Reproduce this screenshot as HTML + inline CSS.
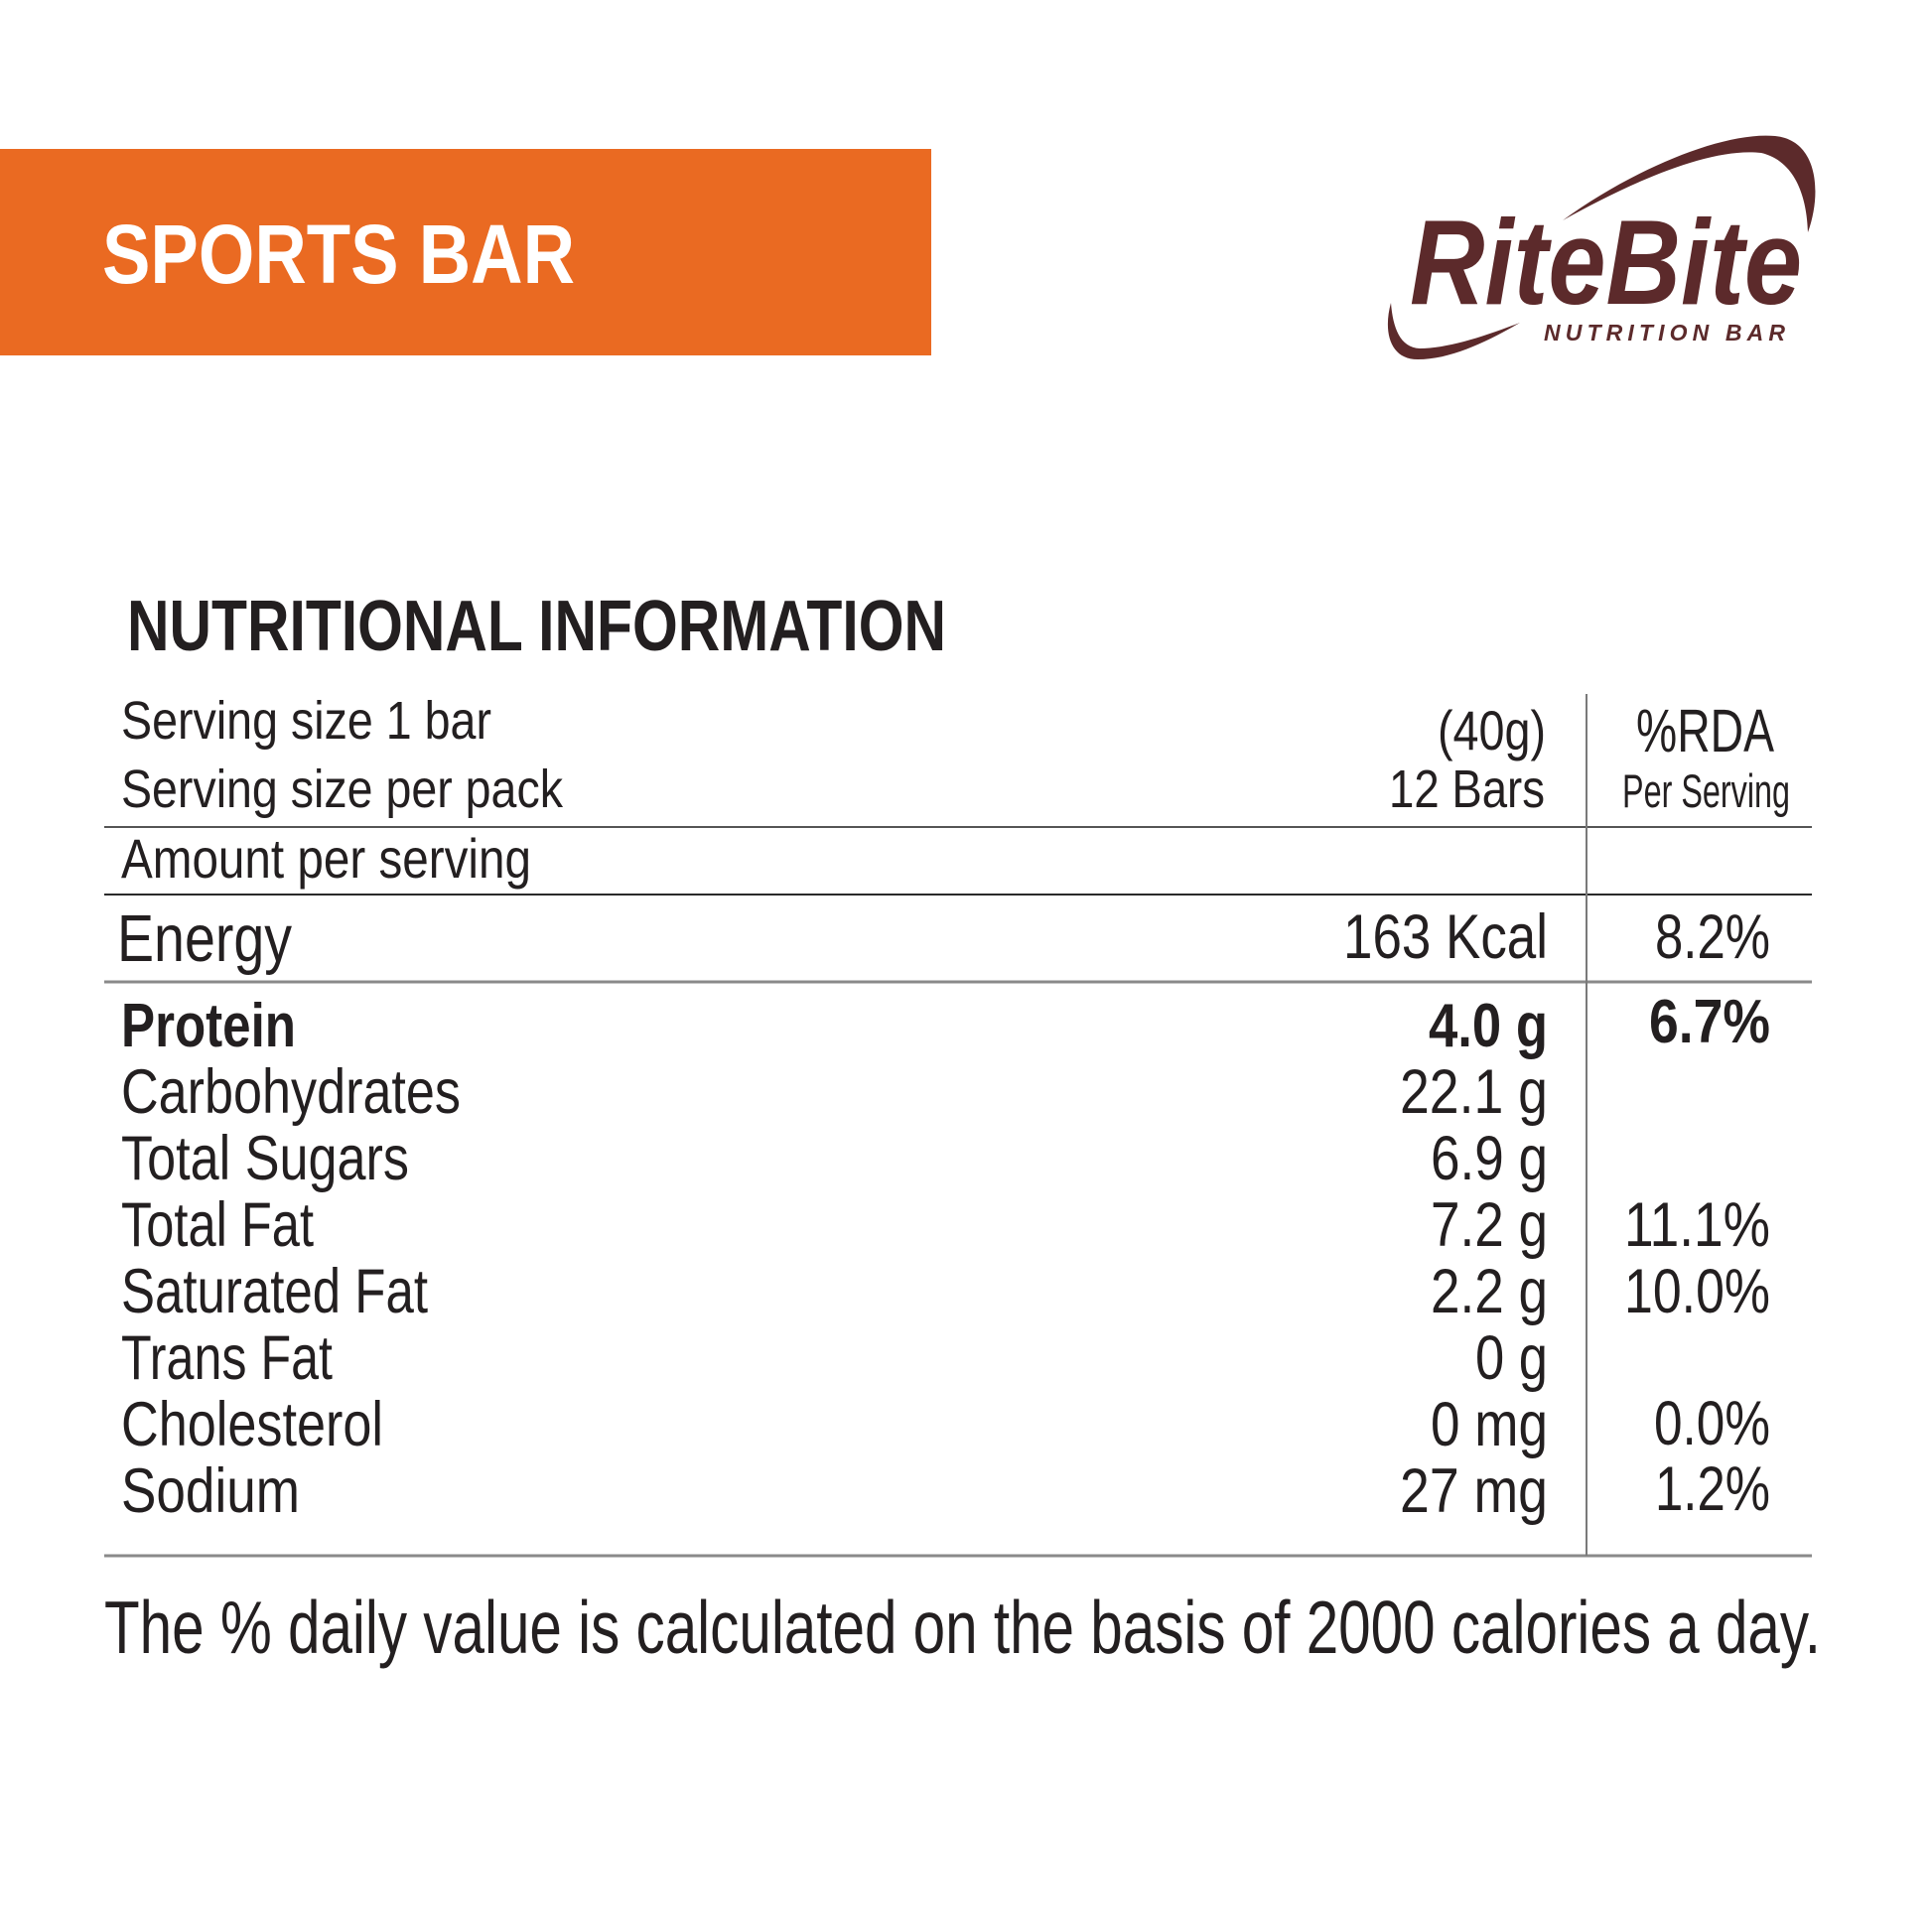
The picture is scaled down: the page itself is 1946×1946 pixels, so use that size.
<!DOCTYPE html>
<html>
<head>
<meta charset="utf-8">
<style>
  html, body { margin: 0; padding: 0; background: #ffffff; }
  svg { display: block; }
  .t { font-family: "Liberation Sans", "DejaVu Sans", sans-serif; fill: #231f20; }
  .b { font-weight: bold; }
</style>
</head>
<body>
<svg width="1946" height="1946" viewBox="0 0 1946 1946" xmlns="http://www.w3.org/2000/svg">
  <rect x="0" y="0" width="1946" height="1946" fill="#ffffff"/>

  <!-- Orange banner -->
  <rect x="0" y="150" width="938" height="208" fill="#EA6A22"/>
  <text class="t b" x="103" y="285" font-size="84" fill="#ffffff" style="fill:#ffffff" textLength="476" lengthAdjust="spacingAndGlyphs">SPORTS BAR</text>

  <!-- Logo -->
  <path d="M1574,222 C1642,172 1735,132 1788,137 C1830,141 1836,192 1821,234 C1820,198 1808,162 1774,154 C1722,148 1642,184 1574,222 Z" fill="#5c2a2b"/>
  <path d="M1401,305 C1393,334 1400,362 1428,362 C1462,362 1500,343 1531,325 C1495,339 1458,351 1430,351 C1410,350 1403,330 1401,305 Z" fill="#5c2a2b"/>
  <text x="1420" y="306" font-family="Liberation Sans, sans-serif" font-weight="bold" font-style="italic" font-size="122" fill="#5c2a2b" textLength="395" lengthAdjust="spacingAndGlyphs">RiteBite</text>
  <text x="1555" y="343" font-family="Liberation Sans, sans-serif" font-weight="bold" font-style="italic" font-size="23" fill="#5c2a2b" textLength="243" lengthAdjust="spacing">NUTRITION BAR</text>

  <!-- Title -->
  <text class="t b" x="128" y="655" font-size="72" textLength="825" lengthAdjust="spacingAndGlyphs">NUTRITIONAL INFORMATION</text>

  <!-- Header rows -->
  <text class="t" x="122" y="744" font-size="54" textLength="373" lengthAdjust="spacingAndGlyphs">Serving size 1 bar</text>
  <text class="t" x="122" y="813" font-size="54" textLength="445" lengthAdjust="spacingAndGlyphs">Serving size per pack</text>
  <text class="t" x="1448" y="755" font-size="56" textLength="109" lengthAdjust="spacingAndGlyphs">(40g)</text>
  <text class="t" x="1399" y="813" font-size="54" textLength="157" lengthAdjust="spacingAndGlyphs">12 Bars</text>
  <text class="t" x="1648" y="757" font-size="61" textLength="139" lengthAdjust="spacingAndGlyphs">%RDA</text>
  <text class="t" x="1634" y="813" font-size="47" textLength="169" lengthAdjust="spacingAndGlyphs">Per Serving</text>

  <text class="t" x="122" y="884" font-size="56" textLength="413" lengthAdjust="spacingAndGlyphs">Amount per serving</text>

  <text class="t" x="118" y="968" font-size="67" textLength="176" lengthAdjust="spacingAndGlyphs">Energy</text>
  <text class="t" x="1353" y="965" font-size="63" textLength="206" lengthAdjust="spacingAndGlyphs">163 Kcal</text>
  <text class="t" x="1667" y="965" font-size="63" textLength="116" lengthAdjust="spacingAndGlyphs">8.2%</text>

  <!-- Nutrients -->
  <text class="t b" x="122" y="1054" font-size="62" textLength="176" lengthAdjust="spacingAndGlyphs">Protein</text>
  <text class="t b" x="1439" y="1054" font-size="62" textLength="120" lengthAdjust="spacingAndGlyphs">4.0 g</text>
  <text class="t b" x="1661" y="1050" font-size="62" textLength="122" lengthAdjust="spacingAndGlyphs">6.7%</text>

  <text class="t" x="122" y="1121" font-size="63" textLength="342" lengthAdjust="spacingAndGlyphs">Carbohydrates</text>
  <text class="t" x="1410" y="1121" font-size="63" textLength="149" lengthAdjust="spacingAndGlyphs">22.1 g</text>

  <text class="t" x="122" y="1188" font-size="63" textLength="290" lengthAdjust="spacingAndGlyphs">Total Sugars</text>
  <text class="t" x="1441" y="1188" font-size="63" textLength="118" lengthAdjust="spacingAndGlyphs">6.9 g</text>

  <text class="t" x="122" y="1255" font-size="63" textLength="194" lengthAdjust="spacingAndGlyphs">Total Fat</text>
  <text class="t" x="1441" y="1255" font-size="63" textLength="118" lengthAdjust="spacingAndGlyphs">7.2 g</text>
  <text class="t" x="1636" y="1255" font-size="63" textLength="147" lengthAdjust="spacingAndGlyphs">11.1%</text>

  <text class="t" x="122" y="1322" font-size="63" textLength="309" lengthAdjust="spacingAndGlyphs">Saturated Fat</text>
  <text class="t" x="1441" y="1322" font-size="63" textLength="118" lengthAdjust="spacingAndGlyphs">2.2 g</text>
  <text class="t" x="1636" y="1322" font-size="63" textLength="147" lengthAdjust="spacingAndGlyphs">10.0%</text>

  <text class="t" x="122" y="1389" font-size="63" textLength="213" lengthAdjust="spacingAndGlyphs">Trans Fat</text>
  <text class="t" x="1486" y="1389" font-size="63" textLength="73" lengthAdjust="spacingAndGlyphs">0 g</text>

  <text class="t" x="122" y="1456" font-size="63" textLength="264" lengthAdjust="spacingAndGlyphs">Cholesterol</text>
  <text class="t" x="1441" y="1456" font-size="63" textLength="118" lengthAdjust="spacingAndGlyphs">0 mg</text>
  <text class="t" x="1666" y="1455" font-size="63" textLength="117" lengthAdjust="spacingAndGlyphs">0.0%</text>

  <text class="t" x="122" y="1523" font-size="63" textLength="180" lengthAdjust="spacingAndGlyphs">Sodium</text>
  <text class="t" x="1410" y="1523" font-size="63" textLength="149" lengthAdjust="spacingAndGlyphs">27 mg</text>
  <text class="t" x="1667" y="1521" font-size="63" textLength="116" lengthAdjust="spacingAndGlyphs">1.2%</text>

  <!-- Lines -->
  <line x1="105" y1="833" x2="1825" y2="833" stroke="#555" stroke-width="2"/>
  <line x1="105" y1="901" x2="1825" y2="901" stroke="#2a2a2a" stroke-width="2"/>
  <line x1="105" y1="989" x2="1825" y2="989" stroke="#8a8a8a" stroke-width="3"/>
  <line x1="105" y1="1567" x2="1825" y2="1567" stroke="#8a8a8a" stroke-width="3"/>
  <line x1="1598" y1="699" x2="1598" y2="1567" stroke="#7a7a7a" stroke-width="2"/>

  <!-- Footer -->
  <text class="t" x="105" y="1665" font-size="75" textLength="1729" lengthAdjust="spacingAndGlyphs">The % daily value is calculated on the basis of 2000 calories a day.</text>
</svg>
</body>
</html>
